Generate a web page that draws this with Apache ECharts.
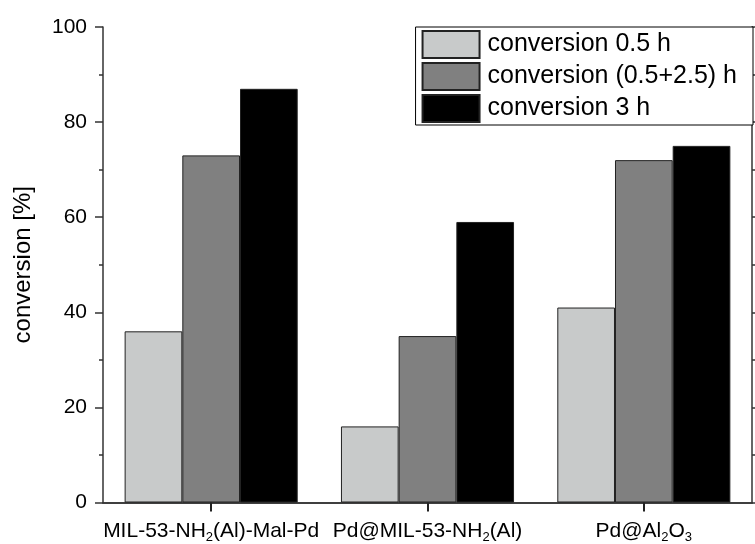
<!DOCTYPE html>
<html>
<head>
<meta charset="utf-8">
<script src="https://cdn.jsdelivr.net/npm/echarts@6/dist/echarts.min.js"></script>
<style>html,body{margin:0;padding:0;background:#fff}#c{width:755px;height:544px}</style>
</head>
<body>
<div id="c"></div>
<script>
const categories = ["MIL-53-NH2(Al)-Mal-Pd", "Pd@MIL-53-NH2(Al)", "Pd@Al2O3"];
const seriesNames = ["conversion 0.5 h", "conversion (0.5+2.5) h", "conversion 3 h"];
const conv05 = [36, 16, 41];
const conv05plus25 = [73, 35, 72];
const conv3 = [87, 59, 75];
const yTicks = [0, 20, 40, 60, 80, 100];
const colors = ["#c8caca", "#808080", "#000000"];

const FONT = "Liberation Sans, Arial, sans-serif";
const chart = echarts.init(document.getElementById('c'), null, {renderer: 'canvas'});

function subFmt(v) {
  return v.replace(/([A-Za-z])(\d+)/g, '$1\u0000$2\u0001').split(/(\u0000\d+\u0001)/).map(p => {
    if (p.startsWith('\u0000')) return '{s|' + p.slice(1, -1) + '}';
    return p ? '{a|' + p + '}' : '';
  }).join('');
}

const seriesData = [conv05, conv05plus25, conv3];
const axisLineStyle = {color: '#333', width: 1.5};

chart.setOption({
  animation: false,
  backgroundColor: '#fff',
  textStyle: {fontFamily: FONT},
  grid: {left: 103, right: 3, top: 27, bottom: 41, containLabel: false},
  legend: {
    orient: 'vertical',
    right: 2,
    top: 27,
    padding: [3, 16, 2, 6],
    itemWidth: 57,
    itemHeight: 27,
    itemGap: 3,
    borderColor: '#000',
    borderWidth: 1,
    backgroundColor: '#fff',
    icon: 'rect',
    textStyle: {fontSize: 25, lineHeight: 27, color: '#000', fontFamily: FONT, padding: [0, 0, 0, 3]},
    data: seriesNames
  },
  xAxis: [{
    type: 'category',
    data: categories,
    axisLine: {lineStyle: axisLineStyle},
    axisTick: {show: true, alignWithLabel: true, interval: 0, length: 9, lineStyle: {color: '#222', width: 2}},
    axisLabel: {
      interval: 0,
      margin: 16,
      formatter: subFmt,
      rich: {
        a: {fontSize: 21, color: '#000', fontFamily: FONT, lineHeight: 26},
        s: {fontSize: 13, color: '#000', fontFamily: FONT, lineHeight: 13, padding: [12, 0, 0, 0]}
      }
    }
  }, {
    type: 'category',
    position: 'top',
    data: categories,
    axisLine: {lineStyle: axisLineStyle},
    axisTick: {show: false},
    axisLabel: {show: false}
  }],
  yAxis: [{
    type: 'value',
    min: yTicks[0],
    max: yTicks[yTicks.length - 1],
    interval: 20,
    name: 'conversion [%]',
    nameLocation: 'middle',
    nameRotate: 90,
    nameGap: 68,
    nameTextStyle: {fontSize: 24, color: '#000', fontFamily: FONT},
    axisLine: {show: true, lineStyle: axisLineStyle},
    axisTick: {show: true, length: 8, lineStyle: {color: '#333', width: 1.5}},
    minorTick: {show: true, splitNumber: 2, length: 4, lineStyle: {color: '#333', width: 1.5}},
    splitLine: {show: false},
    axisLabel: {fontSize: 21, color: '#000', margin: 16, fontFamily: FONT}
  }, {
    type: 'value',
    position: 'right',
    min: yTicks[0],
    max: yTicks[yTicks.length - 1],
    interval: 20,
    axisLine: {show: true, lineStyle: axisLineStyle},
    axisTick: {show: true, length: 8, lineStyle: {color: '#333', width: 1.5}},
    minorTick: {show: true, splitNumber: 2, length: 4, lineStyle: {color: '#333', width: 1.5}},
    splitLine: {show: false},
    axisLabel: {show: false}
  }],
  series: seriesNames.map((n, i) => ({
    name: n,
    type: 'bar',
    data: seriesData[i],
    barGap: '0%',
    barCategoryGap: '20%',
    itemStyle: {color: colors[i], borderColor: '#222', borderWidth: 1}
  }))
});
</script>
</body>
</html>
